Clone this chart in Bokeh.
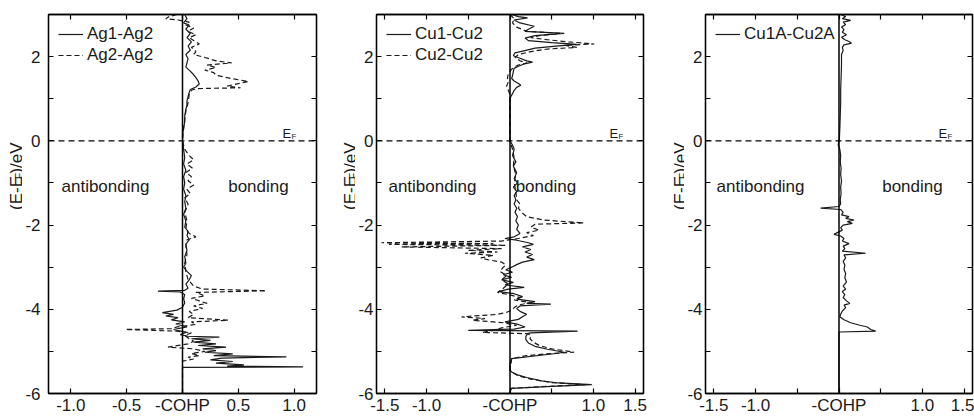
import math
from bokeh.plotting import figure
from bokeh.layouts import row
from bokeh.models import (Span, Label, Legend, LegendItem, LinearAxis,
                          FixedTicker, Range1d, CustomJSTickFormatter)
from bokeh.core.properties import value
from bokeh.embed import file_html
from bokeh.resources import INLINE

# ---------------- data: (E - E_F in eV, -COHP) ----------------
ag1_ag2 = [
    (3.00, 0.02), (2.90, 0.04), (2.80, 0.01), (2.75, 0.06), (2.65, 0.03), (2.55, 0.07),
    (2.45, 0.04), (2.35, 0.08), (2.25, 0.05), (2.15, 0.07), (2.05, 0.03), (1.95, 0.05),
    (1.85, 0.04), (1.75, 0.03), (1.68, 0.06), (1.60, 0.09), (1.50, 0.12), (1.42, 0.14),
    (1.35, 0.15), (1.28, 0.12), (1.22, 0.07), (1.15, 0.06), (1.05, 0.05), (0.95, 0.04),
    (0.85, 0.04), (0.75, 0.03), (0.60, 0.02), (0.45, 0.02), (0.30, 0.01), (0.15, 0.0),
    (0.00, 0.0), (-0.20, 0.01), (-0.40, 0.02), (-0.55, 0.01), (-0.70, 0.03), (-0.85, 0.01),
    (-1.00, 0.02), (-1.15, 0.01), (-1.30, 0.03), (-1.45, 0.02), (-1.60, 0.03), (-1.75, 0.01),
    (-1.90, 0.03), (-2.05, 0.02), (-2.15, 0.05), (-2.25, 0.04), (-2.35, 0.06), (-2.45, 0.03),
    (-2.60, 0.04), (-2.75, 0.02), (-2.90, 0.03), (-3.00, 0.01), (-3.10, 0.04), (-3.20, 0.08),
    (-3.30, 0.06), (-3.40, 0.03), (-3.50, 0.05), (-3.55, 0.02), (-3.57, -0.22), (-3.59, -0.02),
    (-3.65, 0.02), (-3.75, 0.01), (-3.85, 0.02), (-3.95, 0.0), (-4.02, -0.05), (-4.08, -0.18),
    (-4.12, -0.08), (-4.16, -0.15), (-4.20, -0.04), (-4.25, -0.10), (-4.30, 0.02), (-4.35, -0.06),
    (-4.42, 0.04), (-4.48, -0.08), (-4.55, 0.03), (-4.60, -0.02), (-4.64, 0.05), (-4.66, 0.33),
    (-4.70, 0.08), (-4.74, 0.25), (-4.78, 0.10), (-4.82, 0.30), (-4.86, 0.14), (-4.90, 0.39),
    (-4.94, 0.18), (-4.98, 0.30), (-5.02, 0.20), (-5.06, 0.45), (-5.10, 0.28), (-5.13, 0.93),
    (-5.16, 0.35), (-5.20, 0.25), (-5.24, 0.45), (-5.28, 0.30), (-5.32, 0.55), (-5.35, 0.40),
    (-5.37, 1.08), (-5.38, 0.0), (-6.00, 0.0),
]
ag2_ag2 = [
    (3.00, -0.05), (2.95, -0.12), (2.90, -0.15), (2.87, -0.04), (2.82, 0.06), (2.75, 0.03),
    (2.68, 0.10), (2.60, 0.05), (2.52, 0.12), (2.45, 0.06), (2.38, 0.10), (2.30, 0.15),
    (2.22, 0.08), (2.12, 0.12), (2.05, 0.10), (1.98, 0.20), (1.90, 0.30), (1.85, 0.44),
    (1.80, 0.22), (1.74, 0.30), (1.68, 0.20), (1.62, 0.28), (1.56, 0.30), (1.50, 0.40),
    (1.45, 0.50), (1.41, 0.59), (1.36, 0.50), (1.30, 0.40), (1.26, 0.52), (1.24, 0.12),
    (1.20, 0.08), (1.10, 0.06), (0.90, 0.05), (0.70, 0.03), (0.50, 0.02), (0.30, 0.01),
    (0.00, 0.0), (-0.20, 0.02), (-0.35, 0.06), (-0.45, 0.10), (-0.55, 0.04), (-0.65, 0.09),
    (-0.75, 0.03), (-0.85, 0.08), (-0.95, 0.05), (-1.05, 0.10), (-1.15, 0.04), (-1.25, 0.07),
    (-1.35, 0.02), (-1.50, 0.05), (-1.70, 0.02), (-1.90, 0.04), (-2.10, 0.03), (-2.20, 0.06),
    (-2.28, 0.12), (-2.35, 0.04), (-2.50, 0.03), (-2.70, 0.04), (-2.90, 0.02), (-3.10, 0.03),
    (-3.30, 0.05), (-3.45, 0.10), (-3.52, 0.18), (-3.56, 0.75), (-3.60, 0.12), (-3.68, 0.20),
    (-3.74, 0.08), (-3.80, 0.15), (-3.86, 0.22), (-3.92, 0.10), (-3.98, 0.18), (-4.05, 0.06),
    (-4.12, 0.10), (-4.20, 0.05), (-4.26, 0.41), (-4.30, 0.08), (-4.36, 0.12), (-4.42, -0.05),
    (-4.46, -0.10), (-4.48, -0.51), (-4.52, -0.05), (-4.56, 0.08), (-4.62, 0.02), (-4.70, 0.06),
    (-4.76, 0.10), (-4.82, 0.05), (-4.90, -0.13), (-4.94, 0.10), (-5.00, 0.20), (-5.05, 0.08),
    (-5.10, 0.15), (-5.14, 0.05), (-5.18, 0.10), (-5.21, 0.05), (-5.23, 0.0), (-6.00, 0.0),
]
cu1_cu2 = [
    (3.00, 0.02), (2.95, 0.10), (2.92, 0.21), (2.87, 0.05), (2.80, 0.12), (2.72, 0.29),
    (2.65, 0.22), (2.60, 0.18), (2.55, 0.65), (2.50, 0.30), (2.44, 0.18), (2.38, 0.22),
    (2.33, 0.50), (2.29, 0.80), (2.25, 0.55), (2.20, 0.30), (2.15, 0.19), (2.09, 0.06),
    (2.02, 0.04), (1.96, 0.12), (1.90, 0.20), (1.87, 0.27), (1.82, 0.16), (1.77, 0.10),
    (1.72, 0.05), (1.65, 0.04), (1.55, 0.03), (1.48, 0.02), (1.42, 0.05), (1.36, 0.10),
    (1.32, 0.13), (1.27, 0.08), (1.20, 0.05), (1.12, 0.03), (1.05, 0.01), (1.00, 0.0),
    (0.00, 0.0), (-0.10, 0.03), (-0.20, 0.05), (-0.35, 0.03), (-0.50, 0.07), (-0.60, 0.04),
    (-0.75, 0.08), (-0.90, 0.05), (-1.00, 0.09), (-1.10, 0.04), (-1.20, 0.08), (-1.30, 0.05),
    (-1.40, 0.07), (-1.50, 0.05), (-1.60, 0.08), (-1.70, 0.06), (-1.80, 0.09), (-1.90, 0.07),
    (-2.00, 0.10), (-2.10, 0.08), (-2.20, 0.12), (-2.28, 0.05), (-2.32, -0.06), (-2.36, 0.08),
    (-2.42, 0.22), (-2.46, 0.28), (-2.52, 0.15), (-2.58, 0.25), (-2.64, 0.18), (-2.70, 0.27),
    (-2.76, 0.20), (-2.82, 0.29), (-2.88, 0.15), (-2.94, 0.08), (-3.00, 0.02), (-3.06, -0.05),
    (-3.12, 0.03), (-3.18, -0.08), (-3.24, 0.02), (-3.30, -0.10), (-3.36, 0.04), (-3.42, -0.06),
    (-3.48, 0.17), (-3.52, -0.02), (-3.58, -0.14), (-3.63, 0.05), (-3.70, 0.15), (-3.76, 0.08),
    (-3.82, 0.30), (-3.86, 0.20), (-3.88, 0.49), (-3.92, 0.12), (-3.98, 0.08), (-4.05, 0.12),
    (-4.12, 0.20), (-4.18, 0.15), (-4.24, 0.10), (-4.30, -0.06), (-4.36, 0.10), (-4.42, 0.18),
    (-4.47, 0.05), (-4.50, -0.50), (-4.52, 0.81), (-4.56, 0.25), (-4.58, 0.21), (-4.65, 0.19),
    (-4.72, 0.19), (-4.80, 0.22), (-4.88, 0.30), (-4.95, 0.45), (-5.02, 0.65), (-5.05, 0.55),
    (-5.17, 0.02), (-5.30, 0.0), (-5.45, 0.0), (-5.49, 0.02), (-5.55, 0.08), (-5.62, 0.20),
    (-5.70, 0.38), (-5.75, 0.58), (-5.79, 0.98), (-5.83, 0.50), (-5.88, 0.02), (-5.95, 0.0),
    (-6.00, 0.0),
]
cu2_cu2 = [
    (3.00, 0.0), (2.90, 0.05), (2.80, 0.03), (2.70, 0.08), (2.60, 0.20), (2.55, 0.60),
    (2.50, 0.35), (2.45, 0.25), (2.40, 0.45), (2.35, 0.70), (2.30, 1.01), (2.27, 0.65),
    (2.22, 0.80), (2.18, 0.45), (2.12, 0.25), (2.05, 0.10), (1.98, 0.06), (1.90, 0.12),
    (1.85, 0.20), (1.80, 0.10), (1.75, 0.05), (1.70, 0.02), (1.60, -0.02), (1.50, -0.03),
    (1.40, -0.02), (1.30, -0.04), (1.20, -0.02), (1.10, 0.0), (0.00, 0.0), (-0.20, 0.03),
    (-0.40, 0.05), (-0.60, 0.04), (-0.80, 0.07), (-1.00, 0.05), (-1.20, 0.07), (-1.40, 0.08),
    (-1.50, 0.12), (-1.60, 0.10), (-1.70, 0.14), (-1.80, 0.20), (-1.88, 0.40), (-1.95, 0.885),
    (-1.98, 0.30), (-2.05, 0.25), (-2.12, 0.35), (-2.18, 0.20), (-2.25, 0.28), (-2.32, 0.10),
    (-2.38, -0.10), (-2.42, -1.54), (-2.44, -0.20), (-2.46, -1.45), (-2.48, -0.05), (-2.52, -1.30),
    (-2.56, -0.10), (-2.60, -0.50), (-2.64, -0.15), (-2.67, -0.54), (-2.72, -0.20), (-2.78, -0.35),
    (-2.83, -0.25), (-2.88, -0.10), (-2.95, -0.05), (-3.00, -0.08), (-3.10, -0.12), (-3.20, -0.04),
    (-3.30, -0.10), (-3.40, -0.02), (-3.50, -0.08), (-3.60, -0.15), (-3.65, -0.02), (-3.72, 0.12),
    (-3.78, 0.05), (-3.84, 0.25), (-3.90, 0.10), (-3.96, 0.05), (-4.02, 0.02), (-4.08, -0.05),
    (-4.12, -0.15), (-4.18, -0.58), (-4.22, -0.30), (-4.26, -0.45), (-4.32, -0.08), (-4.38, 0.08),
    (-4.44, -0.10), (-4.50, -0.20), (-4.55, -0.33), (-4.58, 0.21), (-4.62, 0.25), (-4.70, 0.24),
    (-4.78, 0.28), (-4.86, 0.35), (-4.94, 0.50), (-5.02, 0.77), (-5.05, 0.50), (-5.10, 0.20),
    (-5.17, 0.02), (-5.45, 0.0), (-5.50, 0.03), (-5.58, 0.10), (-5.66, 0.25), (-5.74, 0.50),
    (-5.79, 0.90), (-5.83, 0.45), (-5.88, 0.0), (-6.00, 0.0),
]
cu1a_cu2a = [
    (3.00, 0.02), (2.95, 0.08), (2.90, 0.04), (2.86, 0.14), (2.82, 0.05), (2.76, 0.08),
    (2.70, 0.03), (2.64, 0.06), (2.58, 0.04), (2.52, 0.09), (2.46, 0.03), (2.40, 0.07),
    (2.36, 0.12), (2.32, 0.15), (2.28, 0.06), (2.22, 0.04), (2.15, 0.05), (2.05, 0.03),
    (1.80, 0.03), (1.50, 0.025), (1.20, 0.02), (0.90, 0.02), (0.60, 0.015), (0.30, 0.01),
    (0.05, 0.005), (0.00, 0.0), (-0.10, -0.01), (-0.20, 0.01), (-0.35, 0.02), (-0.50, 0.015),
    (-0.65, 0.025), (-0.80, 0.02), (-0.95, 0.03), (-1.10, 0.02), (-1.25, 0.025), (-1.40, 0.015),
    (-1.50, 0.02), (-1.56, 0.0), (-1.60, -0.22), (-1.63, 0.02), (-1.70, 0.05), (-1.76, 0.03),
    (-1.80, 0.12), (-1.84, 0.08), (-1.88, 0.18), (-1.92, 0.10), (-1.96, 0.16), (-2.00, 0.05),
    (-2.06, 0.02), (-2.12, 0.04), (-2.18, -0.02), (-2.22, -0.06), (-2.26, 0.02), (-2.32, 0.06),
    (-2.38, 0.04), (-2.44, 0.12), (-2.50, 0.05), (-2.56, 0.07), (-2.62, 0.04), (-2.67, 0.32),
    (-2.71, 0.06), (-2.78, 0.08), (-2.86, 0.05), (-2.95, 0.07), (-3.05, 0.06), (-3.15, 0.08),
    (-3.25, 0.07), (-3.35, 0.09), (-3.45, 0.05), (-3.52, 0.08), (-3.58, 0.04), (-3.65, 0.07),
    (-3.72, 0.05), (-3.80, 0.09), (-3.86, 0.13), (-3.90, 0.06), (-3.96, 0.08), (-4.04, 0.04),
    (-4.12, 0.02), (-4.18, 0.01), (-4.25, 0.06), (-4.32, 0.14), (-4.38, 0.25), (-4.42, 0.34),
    (-4.48, 0.38), (-4.52, 0.44), (-4.54, 0.0), (-6.00, 0.0),
]

y_ticks = [-6, -5, -4, -3, -2, -1, 0, 1, 2]
y_tick_labels = ["-6", "", "-4", "", "-2", "", "0", "", "2"]
x_ticks_1 = [-1.0, -0.5, 0.0, 0.5, 1.0]
x_tick_labels_1 = ["-1.0", "-0.5", "-COHP", "0.5", "1.0"]
x_ticks_23 = [-1.5, -1.0, -0.5, 0.0, 0.5, 1.0, 1.5]
x_tick_labels_23 = ["-1.5", "-1.0", "", "-COHP", "", "1.0", "1.5"]

FONT = "Liberation Sans"
INK = "#1a1a1a"
FS = "17px"

LOOKUP = ("const i = Array.from(tvals).findIndex(t => Math.abs(t - tick) < 1e-6);"
          "return i >= 0 ? tlabs[i] : '';")


def fmt(tv, tl):
    return CustomJSTickFormatter(args=dict(tvals=list(tv), tlabs=list(tl)), code=LOOKUP)


def ylabel_fig(width, base_x):
    f = figure(width=width, height=417, x_range=Range1d(0, width), y_range=Range1d(0, 417),
               min_border=0, x_axis_location=None, y_axis_location=None,
               output_backend="svg", toolbar_location=None)
    f.grid.visible = False
    f.outline_line_color = None
    y0 = 417 - 215
    common = dict(angle=math.pi / 2, text_font=value(FONT), text_color=INK,
                  text_align="left", text_baseline="alphabetic")
    f.text(x=[base_x], y=[y0], text=["(E-E"], text_font_size=value(FS), **common)
    f.text(x=[base_x + 3], y=[y0 + 34], text=["F"], text_font_size=value("10px"), **common)
    f.text(x=[base_x], y=[y0 + 40], text=[")/eV"], text_font_size=value(FS), **common)
    return f


def make_panel(width, bl, br, xr, xticks, xlabels, curves, ab_x, b_x, ystand):
    p = figure(width=width, height=417, min_border_left=bl, min_border_right=br,
               min_border_top=14, min_border_bottom=24,
               x_range=Range1d(-xr, xr), y_range=Range1d(-6, 3),
               x_axis_location=None, y_axis_location=None,
               output_backend="svg", toolbar_location=None)
    p.grid.visible = False
    p.outline_line_color = "black"
    p.outline_line_width = 1.3

    bottom = LinearAxis(ticker=FixedTicker(ticks=xticks), formatter=fmt(xticks, xlabels))
    top = LinearAxis(ticker=FixedTicker(ticks=xticks),
                     formatter=CustomJSTickFormatter(code="return '';"))
    left = LinearAxis(ticker=FixedTicker(ticks=y_ticks), formatter=fmt(y_ticks, y_tick_labels))
    right = LinearAxis(ticker=FixedTicker(ticks=y_ticks),
                       formatter=CustomJSTickFormatter(code="return '';"))
    p.add_layout(bottom, "below")
    p.add_layout(left, "left")
    p.add_layout(top, "above")
    p.add_layout(right, "right")

    for ax in [bottom, left, top, right]:
        ax.major_tick_in = 5
        ax.major_tick_out = 0
        ax.minor_tick_line_color = None
        ax.axis_line_color = "black"
        ax.axis_line_width = 1.3
        ax.major_tick_line_color = "black"
        ax.major_tick_line_width = 1.2
        ax.major_label_text_font = FONT
        ax.major_label_text_font_size = FS
        ax.major_label_text_color = INK
    bottom.major_label_standoff = 2
    left.major_label_standoff = ystand
    for ax in [top, right]:
        ax.major_label_standoff = 0

    items = []
    for name, data, dash in curves:
        e = [d[0] for d in data]
        v = [d[1] for d in data]
        r = p.line(v, e, line_color=INK, line_width=1.2, line_dash=dash)
        items.append(LegendItem(label=name, renderers=[r]))

    p.add_layout(Span(location=0, dimension="height", line_color="black", line_width=1.5))
    p.add_layout(Span(location=0, dimension="width", line_color="black",
                      line_width=1.3, line_dash="6 4"))

    leg = Legend(items=items, location="top_left", margin=4, padding=6,
                 spacing=1, glyph_width=25, glyph_height=16, label_height=16,
                 label_standoff=4, border_line_alpha=0, background_fill_alpha=0,
                 label_text_font=FONT, label_text_font_size=FS,
                 label_text_color=INK)
    p.add_layout(leg)

    txt = dict(text_font=FONT, text_font_size=FS, text_color=INK,
               text_baseline="alphabetic", text_align="center")
    p.add_layout(Label(x=ab_x, y=-1.08, text="antibonding", **txt))
    p.add_layout(Label(x=b_x, y=-1.08, text="bonding", **txt))

    p.add_layout(Label(x=xr, y=0, x_offset=-34, y_offset=7, text="E", text_font=FONT,
                       text_font_size="13px", text_color=INK, text_align="left",
                       text_baseline="alphabetic"))
    p.add_layout(Label(x=xr, y=0, x_offset=-25, y_offset=4, text="F", text_font=FONT,
                       text_font_size="8px", text_color=INK, text_align="left",
                       text_baseline="alphabetic"))
    return p


l1 = ylabel_fig(22, 16)
p1 = make_panel(308, 25, 14, 1.2, x_ticks_1, x_tick_labels_1,
                [("Ag1-Ag2", ag1_ag2, "solid"), ("Ag2-Ag2", ag2_ag2, "5 3")],
                -0.69, 0.68, 8)
l2 = ylabel_fig(25, 20)
p2 = make_panel(305, 18, 17, 1.6, x_ticks_23, x_tick_labels_23,
                [("Cu1-Cu2", cu1_cu2, "solid"), ("Cu2-Cu2", cu2_cu2, "5 3")],
                -0.93, 0.43, 3)
l3 = ylabel_fig(24, 20)
p3 = make_panel(290, 18, 2, 1.6, x_ticks_23, x_tick_labels_23,
                [("Cu1A-Cu2A", cu1a_cu2a, "solid")],
                -0.94, 0.88, 3)

layout = row(l1, p1, l2, p2, l3, p3)
open("out.html", "w").write(file_html(layout, INLINE))
